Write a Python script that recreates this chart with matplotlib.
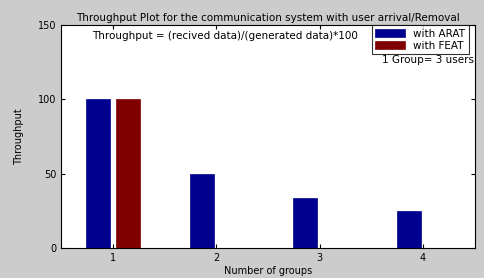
import matplotlib
matplotlib.use("Agg")
import matplotlib.pyplot as plt
import numpy as np

groups = [1, 2, 3, 4]
arat = [100, 50, 33.3, 25]
feat = [100, 0, 0, 0]
yticks = [0, 50, 100, 150]

fs = 7.5
fig = plt.figure(figsize=(4.85, 2.78), dpi=100)
fig.patch.set_facecolor("#cccccc")
ax = fig.add_axes([0.126, 0.108, 0.853, 0.802])
ax.set_facecolor("white")

x = np.array(groups)
w = 0.23
ax.bar(x - 0.14, arat, width=w, color="#00008f", edgecolor="#00008f", linewidth=0.5, label="with ARAT")
ax.bar(x + 0.15, feat, width=w, color="#800000", edgecolor="#800000", linewidth=0.5, label="with FEAT")

ax.set_xlim(0.5, 4.5)
ax.set_ylim(0, 150)
ax.set_xticks(groups)
ax.set_yticks(yticks)
ax.tick_params(direction="in", length=3, labelsize=7, top=True, right=True, width=0.8)
for s in ax.spines.values():
    s.set_linewidth(0.8)

ax.set_title("Throughput Plot for the communication system with user arrival/Removal", fontsize=fs, pad=3)
ax.set_xlabel("Number of groups", fontsize=fs - 0.5, labelpad=2)
ax.set_ylabel("Throughput", fontsize=fs - 0.5, labelpad=10)
ax.text(0.075, 0.975, "Throughput = (recived data)/(generated data)*100", transform=ax.transAxes,
        fontsize=fs, va="top", ha="left")
leg = ax.legend(loc="upper right", fontsize=fs, frameon=True, fancybox=False, edgecolor="black",
                borderaxespad=0.0, handlelength=2.8, handleheight=0.9, labelspacing=0.2,
                borderpad=0.35, bbox_to_anchor=(0.985, 1.0))
leg.get_frame().set_linewidth(0.8)
ax.text(0.997, 0.865, "1 Group= 3 users", transform=ax.transAxes, fontsize=fs, va="top", ha="right")

fig.savefig("out.png", dpi=100, facecolor=fig.get_facecolor())
